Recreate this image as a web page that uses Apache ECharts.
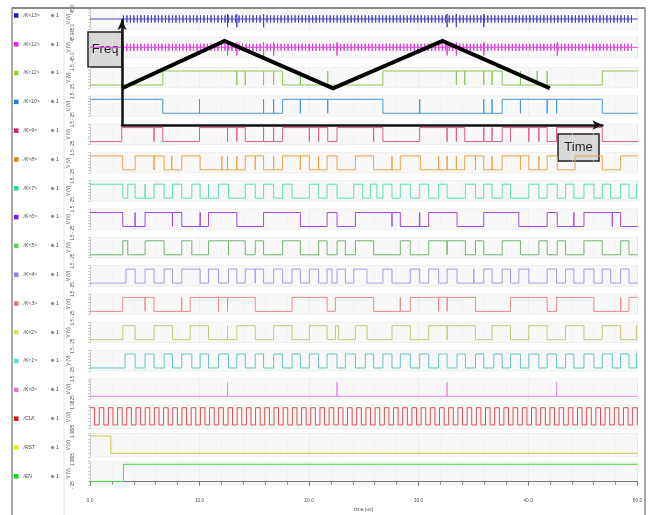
<!DOCTYPE html>
<html><head><meta charset="utf-8">
<script src="https://cdn.jsdelivr.net/npm/echarts@6/dist/echarts.min.js"></script>
<style>html,body{margin:0;padding:0;background:#fff}#c{width:654px;height:515px}</style>
</head><body><div id="c"></div>
<script>
// ---------- data (time in us) ----------
const signalNames = ['/K<13>','/K<12>','/K<11>','/K<10>','/K<9>','/K<8>','/K<7>','/K<6>','/K<5>','/K<4>','/K<3>','/K<2>','/K<1>','/K<0>','/CLK','/RST','/EN'];
const legendColors = ['#1a1ac8','#f01ee0','#92d636','#2284e0','#e0186e','#e08418','#18e09a','#8218ee','#62cc62','#8a86e6','#e67474','#dcdc5e','#5edcdc','#e474e4','#e01010','#eeee10','#10dc10'];
const traceColors  = ['#4646c4','#e040e0','#8cc85a','#4a96da','#e45a92','#eaa448','#58e2b4','#a448e4','#72b472','#a89aea','#ea8a8a','#c8c878','#66c4c4','#e88ae8','#e24a4a','#d2c84a','#46e046'];

const xTicks = [0, 10, 20, 30, 40, 50];

// /K<13>, /K<12>: flat lines with short glitch spikes
const busSpikes = [3.05,3.37,3.69,4.01,4.33,4.65,4.97,5.29,5.61,5.93,6.25,6.57,6.89,7.21,7.53,7.85,8.17,8.49,8.81,9.13,9.45,9.77,10.09,10.41,10.73,11.05,11.37,11.69,12.01,12.33,12.65,12.97,13.29,13.61,13.93,14.25,14.57,14.89,15.21,15.53,15.85,16.17,16.49,16.81,17.13,17.45,17.77,18.09,18.41,18.73,19.05,19.37,19.69,20.01,20.33,20.65,20.97,21.29,21.61,21.93,22.25,22.57,22.89,23.21,23.53,23.85,24.17,24.49,24.81,25.13,25.45,25.77,26.09,26.41,26.73,27.05,27.37,27.69,28.01,28.33,28.65,28.97,29.29,29.61,29.93,30.25,30.57,30.89,31.21,31.53,31.85,32.17,32.49,32.81,33.13,33.45,33.77,34.09,34.41,34.73,35.05,35.37,35.69,36.01,36.33,36.65,36.97,37.29,37.61,37.93,38.25,38.57,38.89,39.21,39.53,39.85,40.17,40.49,40.81,41.13,41.45,41.77,42.09,42.41,42.73,43.05,43.37,43.69,44.01,44.33,44.65,44.97,45.29,45.61,45.93,46.25,46.57,46.89,47.21,47.53,47.85,48.17,48.49,48.81,49.13,49.45];
const k13TallSpikes = [12.56,13.41,15.85,32.61,33.46,35.96];
const k12TallSpikes = [12.56,13.41,15.85,16.77,22.56,32.61,33.46,35.96,42.67];

// digital rows: initial level, toggle times, glitch times
const k11Init = 0, k11Toggles = [6.65,17.59,26.75,37.64,46.78];
const k11Glitches = [13.41,14.18,15.85,16.77,19.21,21.71,33.46,34.22,35.96,36.72,39.31,40.84,41.75];
const k10Init = 1, k10Toggles = [6.65,17.59,26.75,37.64,46.78];
const k10Glitches = [10.0,15.85,16.77,19.21,21.71,30.11,35.96,36.72,39.31,41.75,42.61];
const k9Init = 0, k9Toggles = [2.90,6.65,10.0,14.18,17.59,21.71,22.56,26.75,30.11,34.22,37.64,41.75,42.61,46.78];
const k9Glitches = [5.85,12.56,13.41,15.85,16.77,20.03,20.88,25.90,32.61,33.46,35.96,36.72,38.40,40.08,40.99];
const k8Init = 1, k8Toggles = [2.99,4.12,6.77,8.38,10.06,14.18,15.85,17.59,20.03,21.65,22.56,24.24,25.90,28.34,30.17,34.22,35.96,37.64,40.08,41.75,42.67,44.30,46.78,48.46];
const k8Glitches = [5.85,7.47,12.04,12.56,13.41,15.09,16.77,19.21,20.88,27.58,31.84,32.61,33.46,35.20,36.72,39.31,40.99];
const k7Init = 1, k7Toggles = [2.99,3.45,4.12,5.85,6.77,7.53,8.38,9.30,10.06,11.74,12.65,14.18,15.09,15.85,16.77,17.59,18.45,20.03,20.88,21.65,22.56,24.09,24.90,25.60,26.20,26.75,27.58,28.34,29.25,30.11,30.93,31.84,32.61,34.28,35.20,35.96,36.72,37.64,38.40,40.08,40.99,41.75,42.67,43.43,44.19,45.11,46.02,46.78,47.55,48.46,49.22,49.90];
const k7Glitches = [5.03,10.82];
const k6Init = 1, k6Toggles = [2.99,5.03,8.38,10.82,13.41,15.85,19.21,21.65,22.56,24.24,28.34,30.93,33.52,35.96,39.16,41.75,42.67,45.11,48.46];
const k6Glitches = [4.12,7.53,10.06,27.58,30.11,44.19,47.70];
const k5Init = 0, k5Toggles = [2.99,3.45,5.03,6.77,8.38,9.30,10.82,14.18,15.09,15.85,17.59,19.21,20.88,21.65,22.56,23.32,24.24,25.90,28.34,29.25,30.93,34.28,35.20,35.96,37.64,39.31,40.99,41.75,42.67,43.43,45.11,46.78,48.46,49.22];
const k5Glitches = [12.65,32.61];
const k4Init = 0, k4Toggles = [3.29,4.12,5.03,5.85,6.77,7.53,8.38,10.06,10.82,11.74,12.65,13.41,14.18,15.85,16.77,17.59,18.45,19.21,20.03,20.88,21.65,22.10,22.56,23.32,24.09,25.29,26.75,27.58,29.25,30.11,30.93,31.84,32.61,33.52,35.96,36.72,37.64,38.40,39.16,40.08,41.75,42.61,43.43,44.19,45.11,46.02,46.78,47.55,48.46,49.22];
const k4Glitches = [15.09,35.05];
const k3Init = 0, k3Toggles = [2.99,5.85,9.15,15.09,18.45,21.65,22.41,25.90,29.25,35.20,38.40,41.75,42.61,46.02,49.22];
const k3Glitches = [5.03,8.38,11.74,12.56,28.34,31.84,32.61,48.46];
const k2Init = 0, k2Toggles = [2.99,4.12,5.85,7.53,9.15,10.82,13.41,15.09,16.77,18.45,20.03,21.65,22.41,22.71,24.24,25.30,27.58,29.25,30.93,35.20,36.72,38.40,40.08,41.75,43.43,45.11,46.78,48.46,49.90];
const k2Glitches = [12.56,32.61];
const k1Init = 0, k1Toggles = [3.20,4.12,5.03,5.85,6.77,7.53,8.38,9.30,10.06,10.82,11.74,12.65,13.41,14.18,15.09,15.85,16.77,17.59,18.45,19.21,20.03,20.88,21.65,22.56,23.32,24.24,25.14,25.90,26.75,27.58,28.34,29.25,30.11,30.93,31.84,32.61,33.52,34.28,35.20,35.96,36.88,37.64,38.40,39.31,40.08,40.99,41.75,42.61,43.43,44.19,45.11,46.02,46.78,47.70,48.46,49.22,49.90];
const k1Glitches = [];
const k0Init = 0, k0Toggles = [];
const k0Glitches = [12.56,22.56,32.61,42.61];
const clkInit = 1, clkToggles = [0.42,0.84,1.26,1.68,2.10,2.52,2.94,3.36,3.78,4.20,4.62,5.04,5.46,5.88,6.30,6.72,7.14,7.56,7.98,8.40,8.82,9.24,9.66,10.08,10.50,10.92,11.34,11.76,12.18,12.60,13.02,13.44,13.86,14.28,14.70,15.12,15.54,15.96,16.38,16.80,17.22,17.64,18.06,18.48,18.90,19.32,19.74,20.16,20.58,21.00,21.42,21.84,22.26,22.68,23.10,23.52,23.94,24.36,24.78,25.20,25.62,26.04,26.46,26.88,27.30,27.72,28.14,28.56,28.98,29.40,29.82,30.24,30.66,31.08,31.50,31.92,32.34,32.76,33.18,33.60,34.02,34.44,34.86,35.28,35.70,36.12,36.54,36.96,37.38,37.80,38.22,38.64,39.06,39.48,39.90,40.32,40.74,41.16,41.58,42.00,42.42,42.84,43.26,43.68,44.10,44.52,44.94,45.36,45.78,46.20,46.62,47.04,47.46,47.88,48.30,48.72,49.14,49.56,49.98];
const rstInit = 1, rstToggles = [1.90];
const enInit = 0, enToggles = [3.05];

// overlay sketch: frequency vs time triangle
const sweepTimes = [2.93, 12.3, 22.2, 32.2, 42.0];
const sweepFreq  = [0.35, 0.80, 0.35, 0.80, 0.35];

// ---------- helpers ----------
const HI = 1.2;
function stepData(init, toggles, glitches) {
  const ev = toggles.map(t => ({t, g: false})).concat(glitches.map(t => ({t, g: true})))
    .sort((a, b) => a.t - b.t);
  let lvl = init;
  const pts = [[0, lvl ? HI : 0]];
  ev.forEach(e => {
    const v = lvl ? HI : 0, o = lvl ? 0 : HI;
    if (e.g) pts.push([e.t, v], [e.t, o], [e.t, v]);
    else { pts.push([e.t, v], [e.t, o]); lvl = 1 - lvl; }
  });
  pts.push([50, lvl ? HI : 0]);
  return pts;
}
function spikeData(times, tall) {
  const pts = [[0, 0]];
  times.concat(tall).sort((a, b) => a - b).forEach(t => {
    const isTall = tall.indexOf(t) >= 0;
    const up = isTall ? 22 : 16, dn = isTall ? -36 : -16;
    pts.push([t, 0], [t, up], [t, dn], [t, 0]);
  });
  pts.push([50, 0]);
  return pts;
}

const rowData = [
  spikeData(busSpikes, k13TallSpikes),
  spikeData(busSpikes, k12TallSpikes),
  stepData(k11Init, k11Toggles, k11Glitches),
  stepData(k10Init, k10Toggles, k10Glitches),
  stepData(k9Init, k9Toggles, k9Glitches),
  stepData(k8Init, k8Toggles, k8Glitches),
  stepData(k7Init, k7Toggles, k7Glitches),
  stepData(k6Init, k6Toggles, k6Glitches),
  stepData(k5Init, k5Toggles, k5Glitches),
  stepData(k4Init, k4Toggles, k4Glitches),
  stepData(k3Init, k3Toggles, k3Glitches),
  stepData(k2Init, k2Toggles, k2Glitches),
  stepData(k1Init, k1Toggles, k1Glitches),
  stepData(k0Init, k0Toggles, k0Glitches),
  stepData(clkInit, clkToggles, []),
  stepData(rstInit, rstToggles, []),
  stepData(enInit, enToggles, [])
];

// ---------- layout ----------
const grids = [], xAxes = [], yAxes = [], series = [];
const N = signalNames.length;
for (let k = 0; k < N; k++) {
  const rowTop = 8 + 28.3 * k;
  const isBus = k < 2, isBig = k >= 14, isLast = k === N - 1;
  const yMin = isBus ? -45 : -0.25, yMax = isBus ? 45 : (isBig ? 1.38 : 1.5);
  const minLbl = isBus ? '-45.0' : '-.25', maxLbl = isBus ? '45.0' : (isBig ? '1.38' : '1.5');
  grids.push({
    left: 90, width: 547.5,
    top: isBig ? rowTop + 0.9 : (isBus ? rowTop + 0.8 : rowTop + 2.9),
    height: isBig ? 23.5 : 20.4,
    show: true, backgroundColor: '#f8f8f8', borderColor: '#e2e2e2', borderWidth: 0.5
  });
  xAxes.push({
    gridIndex: k, type: 'value', min: 0, max: 50, interval: 10,
    offset: isLast ? 8 : 0,
    axisLine: {show: isLast, lineStyle: {color: '#777', width: 1}},
    axisTick: {show: isLast, length: 4, lineStyle: {color: '#777'}},
    minorTick: {show: isLast, splitNumber: 5, length: 3, lineStyle: {color: '#888'}},
    axisLabel: {show: isLast, fontSize: 5, color: '#555', margin: 5,
      customValues: xTicks, formatter: v => v.toFixed(1)},
    splitLine: {show: true, lineStyle: {color: '#e4e4e4', width: 0.6}},
    minorSplitLine: {show: true, lineStyle: {color: '#eeeeee', width: 0.5}},
    name: isLast ? 'time (us)' : '', nameLocation: 'middle', nameGap: 14, nameMoveOverlap: false,
    nameTextStyle: {fontSize: 5, color: '#555'}
  });
  yAxes.push({
    gridIndex: k, type: 'value', min: yMin, max: yMax,
    interval: isBus ? 15 : 0.25,
    offset: 3,
    axisLine: {show: true, lineStyle: {color: '#bbb', width: 0.5}},
    axisTick: {show: true, length: 2, lineStyle: {color: '#999', width: 0.5}},
    axisLabel: {show: true, customValues: [yMin, yMax], rotate: 90, fontSize: 4.5, color: '#555', margin: 12,
      formatter: v => (v === yMin ? minLbl : maxLbl)},
    splitLine: {show: false},
    name: 'V (V)', nameLocation: 'middle', nameGap: 16, nameRotate: 90, nameMoveOverlap: false,
    nameTextStyle: {fontSize: 4.5, color: '#555'}
  });
  series.push({
    name: signalNames[k], type: 'line', xAxisIndex: k, yAxisIndex: k,
    data: rowData[k], symbol: 'none', showSymbol: false, sampling: null,
    color: traceColors[k],
    lineStyle: {color: traceColors[k], width: 1},
    clip: false, z: 2
  });
}
// overlay grid for the hand-drawn sketch
grids.push({left: 122, top: 20, width: 480.4, height: 105});
xAxes.push({gridIndex: N, type: 'value', min: 2.93, max: 46.8, z: 20,
  axisLine: {show: true, onZero: false, symbol: ['none', 'arrow'], symbolSize: [7, 10],
    lineStyle: {color: '#111', width: 2.5}},
  axisTick: {show: false}, axisLabel: {show: false}, splitLine: {show: false}});
yAxes.push({gridIndex: N, type: 'value', min: 0, max: 1, z: 20,
  axisLine: {show: true, onZero: false, symbol: ['none', 'arrow'], symbolSize: [7, 10],
    lineStyle: {color: '#111', width: 2.5}},
  axisTick: {show: false}, axisLabel: {show: false}, splitLine: {show: false}});
series.push({
  name: 'sweep', type: 'line', xAxisIndex: N, yAxisIndex: N,
  data: sweepTimes.map((t, i) => [t, sweepFreq[i]]),
  symbol: 'none', lineStyle: {color: '#000', width: 4, join: 'miter', cap: 'butt'},
  clip: false, z: 20
});

const chart = echarts.init(document.getElementById('c'), null, {renderer: 'canvas'});
chart.setOption({
  animation: false,
  backgroundColor: '#ffffff',
  textStyle: {fontFamily: 'Liberation Sans, DejaVu Sans, sans-serif'},
  grid: grids, xAxis: xAxes, yAxis: yAxes, series: series,
  legend: {
    orient: 'vertical', left: 14, top: 13, padding: 0,
    itemWidth: 4.5, itemHeight: 4.5, itemGap: 23.8, icon: 'rect', selectedMode: false,
    data: signalNames.map((n, i) => ({name: n, itemStyle: {color: legendColors[i]}})),
    formatter: n => '{n|' + n + '}{v|\u2295 1}',
    textStyle: {fontSize: 5, lineHeight: 4.5, color: '#444',
      rich: {n: {width: 27, fontSize: 5, lineHeight: 4.5, color: '#444', fontStyle: 'italic'},
             v: {fontSize: 5, lineHeight: 4.5, color: '#445'}}}
  },
  graphic: [
    {type: 'rect', z: 100, shape: {x: 12, y: 7.5, width: 633, height: 515},
     style: {fill: 'none', stroke: '#555', lineWidth: 1}},
    {type: 'line', z: 100, shape: {x1: 12, y1: 8, x2: 645, y2: 8},
     style: {stroke: '#8a8a8a', lineWidth: 2}},
    {type: 'line', z: 100, shape: {x1: 64, y1: 9, x2: 64, y2: 515},
     style: {stroke: '#dddddd', lineWidth: 0.8}},
    {type: 'group', z: 100, children: [
      {type: 'rect', shape: {x: 88, y: 32, width: 34, height: 35},
       style: {fill: '#d8d8d8', stroke: '#222', lineWidth: 1.5}},
      {type: 'text', style: {x: 105, y: 49.5, text: 'Freq', fill: '#222', align: 'center', verticalAlign: 'middle',
        font: '13px "Liberation Sans Narrow", "Liberation Sans", sans-serif'}}
    ]},
    {type: 'group', z: 100, children: [
      {type: 'rect', shape: {x: 558, y: 134, width: 41, height: 27},
       style: {fill: '#d8d8d8', stroke: '#222', lineWidth: 1.5}},
      {type: 'text', style: {x: 578.5, y: 147.5, text: 'Time', fill: '#222', align: 'center', verticalAlign: 'middle',
        font: '13px "Liberation Sans Narrow", "Liberation Sans", sans-serif'}}
    ]}
  ]
});
</script>
</body></html>
